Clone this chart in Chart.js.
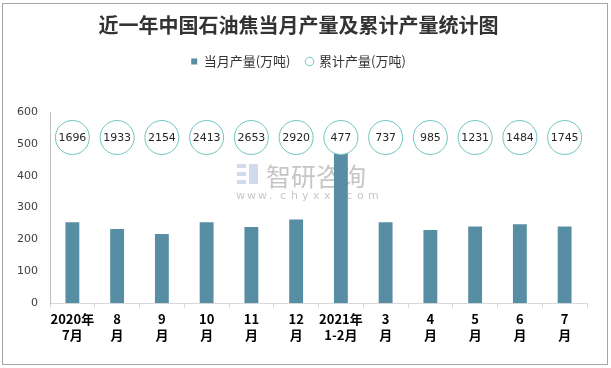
<!DOCTYPE html>
<html>
<head>
<meta charset="utf-8">
<script src="https://cdn.jsdelivr.net/npm/chart.js@4.4.0/dist/chart.umd.min.js"></script>
<style>
  html, body { margin: 0; padding: 0; background: #fff; }
  #wrap { width: 611px; height: 368px; }
</style>
</head>
<body>
<div id="wrap"><canvas id="grafico" width="611" height="368"></canvas></div>
<script>
var categorias = [
    ['2020年', '7月'], ['8', '月'], ['9', '月'], ['10', '月'], ['11', '月'], ['12', '月'],
    ['2021年', '1-2月'], ['3', '月'], ['4', '月'], ['5', '月'], ['6', '月'], ['7', '月']
];
var producaoMes = [254, 233, 217, 254, 239, 263, 475, 254, 230, 241, 248, 241];
var acumulado = [1696, 1933, 2154, 2413, 2653, 2920, 477, 737, 985, 1231, 1484, 1745];
var yTicks = [0, 100, 200, 300, 400, 500, 600];
var nivelCirculo = 520;

var corBarra = '#588ea3';
var corCirculo = '#6fc6c0';

var fundoPlugin = {
    id: 'fundo',
    beforeLayout: function (chart) {
        // espaco extra entre legenda e grafico
        var leg = chart.legend;
        if (leg && !leg._ajustado) {
            var fitOrig = leg.fit;
            leg.fit = function () {
                fitOrig.call(this);
                this.height += 34;
            };
            leg._ajustado = true;
        }
    },
    beforeDraw: function (chart) {
        var c = chart.ctx;
        c.save();
        c.fillStyle = '#fff';
        c.fillRect(0, 0, chart.width, chart.height);
        c.strokeStyle = '#a6a6a6';
        c.lineWidth = 1;
        c.strokeRect(2.5, 3.5, 605, 361);
        c.restore();
    },
    beforeDatasetsDraw: function (chart) {
        var c = chart.ctx;
        c.save();
        c.fillStyle = 'rgba(150,150,150,0.55)';
        c.font = '25px "Noto Sans CJK SC"';
        c.textBaseline = 'middle';
        c.textAlign = 'left';
        c.fillText('智研咨询', 266, 176);
        c.font = '11px "DejaVu Sans"';
        var s = 'www.chyxx.com';
        for (var i = 0; i < s.length; i++) {
            c.fillText(s[i], 236 + i * 11, 196);
        }
        c.fillStyle = 'rgba(120,150,200,0.35)';
        c.fillRect(237, 164, 9, 4);
        c.fillRect(237, 172, 9, 4);
        c.fillRect(249, 164, 9, 20);
        c.fillRect(237, 180, 9, 4);
        c.restore();
    },
    afterDatasetsDraw: function (chart) {
        var c = chart.ctx;
        var meta = chart.getDatasetMeta(1);
        c.save();
        c.fillStyle = '#262626';
        c.font = '11px "DejaVu Sans"';
        c.textAlign = 'center';
        c.textBaseline = 'middle';
        meta.data.forEach(function (pt, i) {
            c.fillText(String(acumulado[i]), pt.x, pt.y + 1);
        });
        c.restore();
    }
};

var ctx = document.getElementById('grafico').getContext('2d');
new Chart(ctx, {
    type: 'bar',
    data: {
        labels: categorias,
        datasets: [{
            type: 'bar',
            label: '当月产量(万吨)',
            data: producaoMes,
            backgroundColor: corBarra,
            borderWidth: 0,
            barPercentage: 0.62,
            categoryPercentage: 0.5,
            pointStyle: 'rect',
            order: 2
        }, {
            type: 'line',
            label: '累计产量(万吨)',
            data: acumulado.map(function () { return nivelCirculo; }),
            showLine: false,
            pointRadius: 17,
            pointHoverRadius: 17,
            pointBackgroundColor: '#fff',
            pointBorderColor: corCirculo,
            pointBorderWidth: 1,
            backgroundColor: '#fff',
            borderColor: corCirculo,
            borderWidth: 1,
            pointStyle: 'circle',
            order: 1
        }]
    },
    options: {
        responsive: false,
        animation: false,
        devicePixelRatio: 1,
        layout: {
            padding: { left: 10, right: 24, top: 0, bottom: 22 }
        },
        scales: {
            x: {
                grid: {
                    display: true,
                    drawOnChartArea: false,
                    offset: true,
                    tickLength: 5,
                    color: '#d9d9d9'
                },
                border: { color: '#d9d9d9' },
                ticks: {
                    color: '#000',
                    maxRotation: 0,
                    autoSkip: false,
                    padding: 2,
                    font: { family: '"Noto Sans CJK SC"', size: 13, weight: 'bold', lineHeight: 1.3 }
                }
            },
            y: {
                min: 0,
                max: 600,
                afterBuildTicks: function (axis) {
                    axis.ticks = yTicks.map(function (v) { return { value: v }; });
                },
                afterFit: function (axis) {
                    axis.width = 40;
                },
                grid: { display: false, drawTicks: false },
                border: { color: '#bfbfbf' },
                ticks: {
                    color: '#404040',
                    padding: 12,
                    font: { family: '"DejaVu Sans"', size: 11 }
                }
            }
        },
        plugins: {
            title: {
                display: true,
                text: '近一年中国石油焦当月产量及累计产量统计图',
                color: '#333',
                font: { family: '"Noto Sans CJK SC"', size: 20, weight: 'bold' },
                padding: { top: 13, bottom: 2 }
            },
            legend: {
                labels: {
                    usePointStyle: true,
                    boxWidth: 6,
                    boxHeight: 6,
                    color: '#333',
                    padding: 16,
                    font: { family: '"Noto Sans CJK SC"', size: 13 },
                    sort: function (a, b) { return a.datasetIndex - b.datasetIndex; }
                }
            },
            tooltip: { enabled: false }
        }
    },
    plugins: [fundoPlugin]
});
</script>
</body>
</html>
